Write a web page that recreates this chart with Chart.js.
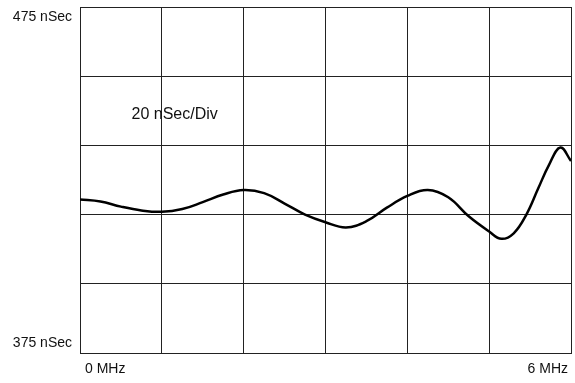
<!DOCTYPE html>
<html>
<head>
<meta charset="utf-8">
<script src="https://cdn.jsdelivr.net/npm/chart.js@4/dist/chart.umd.min.js"></script>
<style>
  html, body { margin: 0; padding: 0; background: #fff; }
  #wrap { width: 575px; height: 383px; }
</style>
</head>
<body>
<div id="wrap"><canvas id="delay-chart"></canvas></div>
<script>
// frequency in MHz
const freqMHz = [0, 0.25, 0.5, 0.75, 1.0, 1.25, 1.5, 1.75, 2.0, 2.25, 2.5, 2.75, 3.0,
    3.25, 3.5, 3.75, 4.0, 4.25, 4.5, 4.75, 5.0, 5.15, 5.3, 5.45, 5.6, 5.73, 5.87, 6.0];
// group delay in nSec
const delayNs = [419.4, 418.8, 417.3, 416.2, 415.8, 416.6, 418.6, 420.8, 422.1, 421.2, 418.2, 415.0, 412.8,
    411.3, 413.1, 417.0, 420.4, 422.1, 420.0, 414.5, 410.1, 408.0, 409.6, 414.8, 422.6, 429.3, 434.4, 430.5];

const yLabels = ['475 nSec', '375 nSec'];
const xLabels = ['0 MHz', '6 MHz'];
const divNote = '20 nSec/Div';

const points = freqMHz.map((f, i) => ({ x: f, y: delayNs[i] }));

// texte des axes dessiné à la main (décalé vers l'intérieur comme sur l'original)
const labelPlugin = {
    id: 'scopeLabels',
    afterDraw(chart) {
        const ctx = chart.ctx;
        const xs = chart.scales.x;
        const ys = chart.scales.y;
        ctx.save();
        ctx.fillStyle = '#111';
        ctx.font = '14px "Liberation Sans", Arial, sans-serif';
        ctx.textBaseline = 'middle';

        ctx.textAlign = 'right';
        ctx.fillText(yLabels[0], xs.left - 8, ys.getPixelForValue(475) + 10);
        ctx.fillText(yLabels[1], xs.left - 8, ys.getPixelForValue(375) - 10);

        ctx.textAlign = 'left';
        ctx.fillText(xLabels[0], xs.getPixelForValue(0) + 5, ys.bottom + 16);
        ctx.textAlign = 'right';
        ctx.fillText(xLabels[1], xs.getPixelForValue(6) - 3, ys.bottom + 16);

        ctx.font = '16px "Liberation Sans", Arial, sans-serif';
        ctx.textAlign = 'left';
        ctx.fillText(divNote, xs.getPixelForValue(0.63), ys.getPixelForValue(444));
        ctx.restore();
    }
};

const config = {
    type: 'line',
    data: {
        datasets: [{
            data: points,
            borderColor: '#000',
            borderWidth: 2.5,
            pointRadius: 0,
            fill: false,
            tension: 0.4
        }]
    },
    options: {
        responsive: true,
        maintainAspectRatio: false,
        animation: false,
        layout: { padding: { left: 80, right: 4, top: 7, bottom: 30 } },
        plugins: {
            legend: { display: false },
            tooltip: { enabled: false }
        },
        scales: {
            x: {
                type: 'linear',
                min: 0,
                max: 6,
                ticks: { stepSize: 1, display: false },
                grid: { color: '#222', lineWidth: 1, drawTicks: false },
                border: { color: '#222', width: 1 }
            },
            y: {
                min: 375,
                max: 475,
                ticks: { stepSize: 20, display: false },
                grid: { color: '#222', lineWidth: 1, drawTicks: false },
                border: { color: '#222', width: 1 }
            }
        }
    },
    plugins: [labelPlugin]
};

const ctx = document.getElementById('delay-chart').getContext('2d');
new Chart(ctx, config);
</script>
</body>
</html>
